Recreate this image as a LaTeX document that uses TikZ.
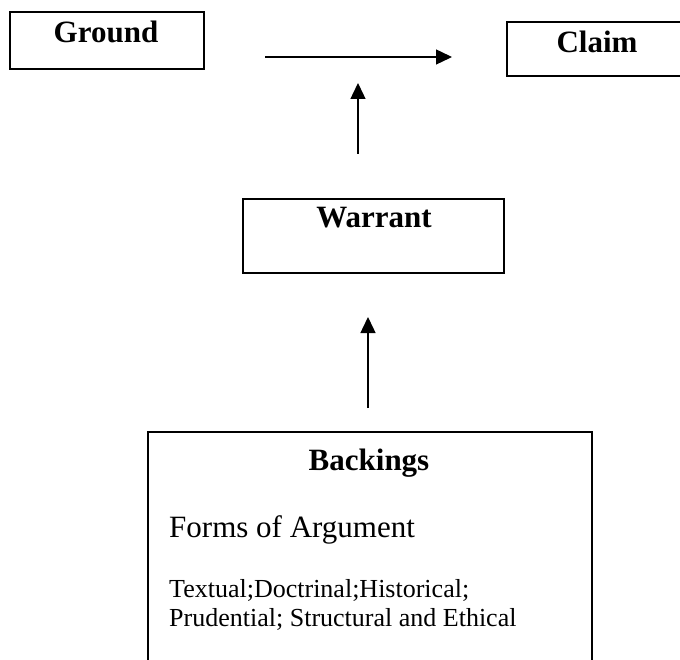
\documentclass[tikz,border=0pt]{standalone}
\usepackage{fontspec}
\setmainfont{Liberation Serif}
\usetikzlibrary{arrows.meta}
\begin{document}
\begin{tikzpicture}[x=1pt,y=-1pt,
  boxframe/.style={draw, line width=2.2pt, inner sep=0pt, outer sep=0pt, anchor=north west},
  headtext/.style={font=\fontsize{31}{36}\selectfont\bfseries, anchor=base, inner sep=0pt},
  bodytext/.style={font=\fontsize{31}{36}\selectfont, anchor=base west, inner sep=0pt},
  smalltext/.style={font=\fontsize{26}{29}\selectfont, anchor=base west, inner sep=0pt},
  link/.style={line width=1.4pt, -{Triangle[length=16pt,width=15pt]}}
]
\clip (0,0) rectangle (680,660);
\fill[white] (0,0) rectangle (680,660);

% boxes
\node[boxframe, minimum width=194pt, minimum height=57pt] (ground) at (10,12) {};
\node[boxframe, minimum width=200pt, minimum height=54pt] (claim) at (507,22) {};
\node[boxframe, minimum width=261pt, minimum height=74pt] (warrant) at (243,199) {};
\coordinate (bkTL) at (148,432);
\coordinate (bkTR) at (592,432);
\coordinate (bkBL) at (148,670);
\coordinate (bkBR) at (592,670);
\draw[line width=2.2pt] (bkBL) -- (bkTL) -- (bkTR) -- (bkBR);

% texts
\node[headtext] (groundlbl) at (106,43) {Ground};
\node[headtext] (claimlbl) at (597,53) {Claim};
\node[headtext] (warrantlbl) at (374,228) {Warrant};
\node[headtext] (backlbl) at (369,470) {Backings};
\node[bodytext] (forms) at (169,537) {Forms of Argument};
\node[smalltext] (detA) at (169,597) {Textual;Doctrinal;Historical;};
\node[smalltext] (detB) at (169,626) {Prudential; Structural and Ethical};

% connectors
\coordinate (a1s) at (265,57);
\coordinate (a1e) at (452,57);
\coordinate (a2s) at (358,154);
\coordinate (a2e) at (358,83);
\coordinate (a3s) at (368,408);
\coordinate (a3e) at (368,317);
\draw[link] (a1s) -- (a1e);
\draw[link] (a2s) -- (a2e);
\draw[link] (a3s) -- (a3e);
\end{tikzpicture}
\end{document}
